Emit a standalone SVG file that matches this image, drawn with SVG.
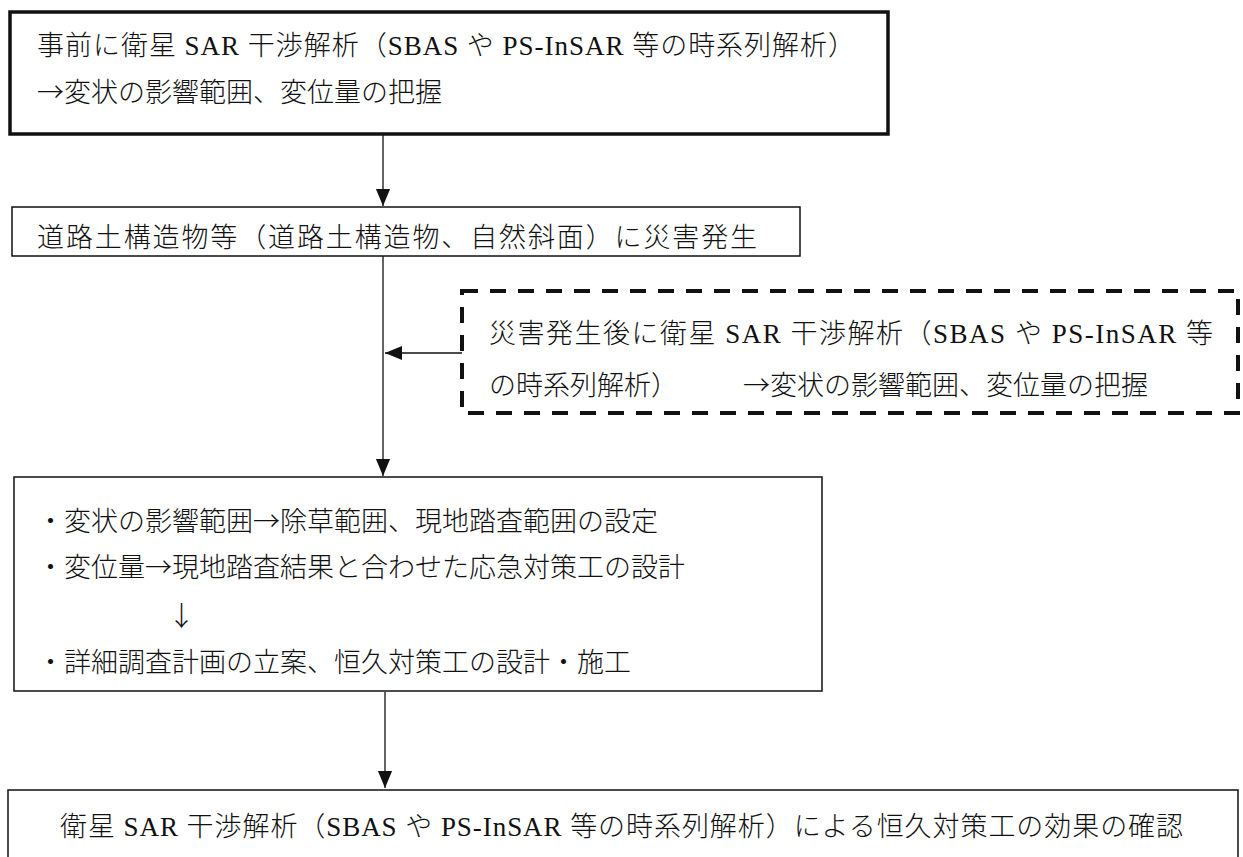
<svg xmlns="http://www.w3.org/2000/svg" width="1243" height="857" viewBox="0 0 1243 857">
<defs>
<style>
text{font-family:"Liberation Serif","Noto Sans CJK JP",serif;font-size:27px;font-weight:300;fill:#111}
.j{font-family:"Noto Sans CJK JP",sans-serif}
.box{fill:#fff;stroke:#111;stroke-width:1.5}
.thick{fill:#fff;stroke:#111;stroke-width:3.5}
.dash{fill:none;stroke:#111;stroke-width:4;stroke-dasharray:16 12}
.con{fill:none;stroke:#111;stroke-width:1.3}
</style>
<marker id="ah" markerUnits="userSpaceOnUse" markerWidth="17" markerHeight="19" refX="18" refY="7.5" orient="auto" viewBox="0 0 18 15">
<path d="M0,0 L18,7.5 L0,15 Z" fill="#111"/>
</marker>
</defs>
<g id="connectors">
<line class="con" x1="383" y1="135" x2="383" y2="206" marker-end="url(#ah)"/>
<line class="con" x1="383" y1="256" x2="383" y2="476" marker-end="url(#ah)"/>
<line class="con" x1="462" y1="353" x2="385" y2="353" marker-end="url(#ah)"/>
<line class="con" x1="385" y1="692" x2="385" y2="788" marker-end="url(#ah)"/>
</g>
<g id="n1">
<rect class="thick" x="10" y="12" width="878" height="122"/>
<text x="37" y="55" textLength="818" lengthAdjust="spacing">事前に衛星 SAR 干渉解析（SBAS や PS-InSAR 等の時系列解析）</text>
<text x="37" y="102"><tspan class="j">→</tspan>変状の影響範囲、変位量の把握</text>
</g>
<g id="n2">
<rect class="box" x="12" y="207" width="788" height="49"/>
<text x="37" y="247" textLength="720" lengthAdjust="spacing">道路土構造物等（道路土構造物、自然斜面）に災害発生</text>
</g>
<g id="n3">
<rect class="dash" x="462" y="291" width="776" height="122"/>
<text x="489" y="343" textLength="724" lengthAdjust="spacing">災害発生後に衛星 SAR 干渉解析（SBAS や PS-InSAR 等</text>
<text x="489" y="395">の時系列解析）<tspan x="743" class="j">→</tspan>変状の影響範囲、変位量の把握</text>
</g>
<g id="n4">
<rect class="box" x="14" y="477" width="808" height="214"/>
<text x="37" y="531">・変状の影響範囲<tspan class="j">→</tspan>除草範囲、現地踏査範囲の設定</text>
<text x="37" y="577">・変位量<tspan class="j">→</tspan>現地踏査結果と合わせた応急対策工の設計</text>
<text x="168" y="626" class="j">↓</text>
<text x="37" y="672">・詳細調査計画の立案、恒久対策工の設計・施工</text>
</g>
<g id="n5">
<rect class="box" x="8" y="790" width="1230" height="80"/>
<text x="60" y="836" textLength="1123" lengthAdjust="spacing">衛星 SAR 干渉解析（SBAS や PS-InSAR 等の時系列解析）による恒久対策工の効果の確認</text>
</g>
</svg>
